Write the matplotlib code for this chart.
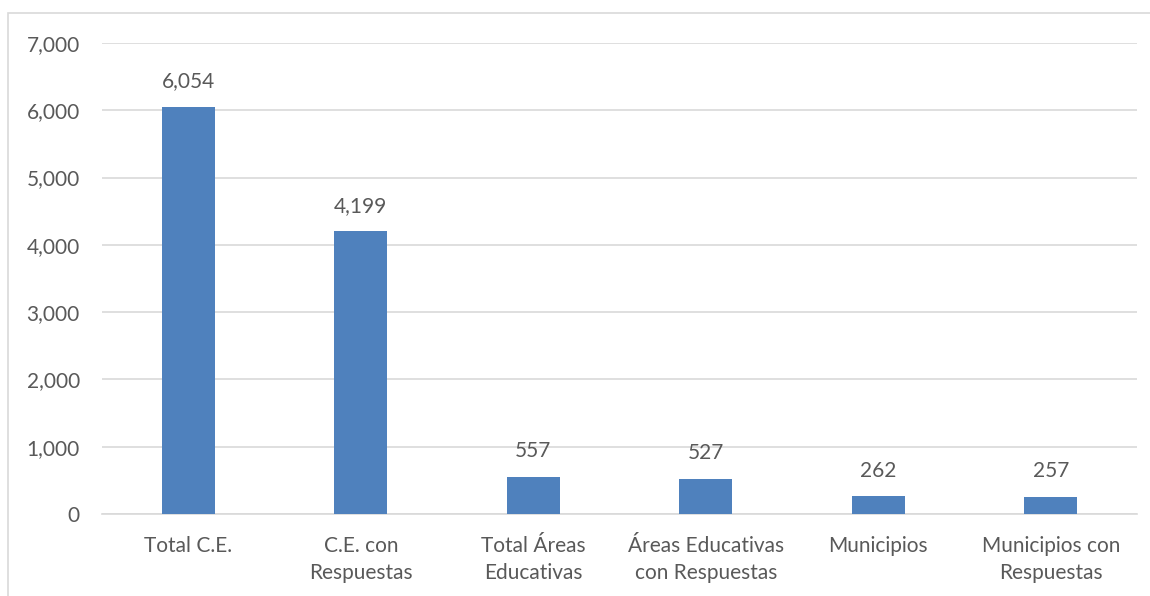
import matplotlib.pyplot as plt
from matplotlib.patches import Rectangle
from matplotlib.ticker import FuncFormatter

# data
categories = ['Total C.E.', 'C.E. con\nRespuestas', 'Total Áreas\nEducativas',
              'Áreas Educativas\ncon Respuestas', 'Municipios', 'Municipios con\nRespuestas']
values = [6054, 4199, 557, 527, 262, 257]
yticks = [0, 1000, 2000, 3000, 4000, 5000, 6000, 7000]

plt.rcParams['font.family'] = ['Lato', 'DejaVu Sans']
text_color = '#595959'
grid_color = '#d9d9d9'
bar_color = '#4f81bd'
fs = 15

fig = plt.figure(figsize=(11.5, 5.96), dpi=100)
ax = fig.add_axes([102 / 1150, 82 / 596, 1035 / 1150, 471 / 596])

# outer border of the chart area
fig.patches.append(Rectangle((8 / 1150, -0.1), 1.2, 1 - 13 / 596 + 0.1,
                             transform=fig.transFigure, fill=False,
                             edgecolor=grid_color, linewidth=1.2))

x = range(len(categories))
bars = ax.bar(x, values, width=0.31, color=bar_color, zorder=3)

for b, v in zip(bars, values):
    ax.annotate(f'{v:,}', (b.get_x() + b.get_width() / 2, v),
                xytext=(0, 11), textcoords='offset points',
                ha='center', va='bottom', fontsize=fs, color=text_color)

ax.set_xlim(-0.5, len(categories) - 0.5)
ax.set_ylim(0, 7000)
ax.set_yticks(yticks)
ax.yaxis.set_major_formatter(FuncFormatter(lambda v, p: f'{int(v):,}'))
ax.set_xticks(list(x))
ax.set_xticklabels(categories, linespacing=1.45)
ax.tick_params(axis='both', length=0, labelsize=fs, labelcolor=text_color)
ax.tick_params(axis='y', pad=16)
ax.tick_params(axis='x', pad=16)

ax.grid(axis='y', color=grid_color, linewidth=1.2, zorder=0)
for s in ['top', 'right', 'left']:
    ax.spines[s].set_visible(False)
ax.spines['bottom'].set_color(grid_color)
ax.spines['bottom'].set_linewidth(1.2)

fig.savefig('out.png', dpi=100)
